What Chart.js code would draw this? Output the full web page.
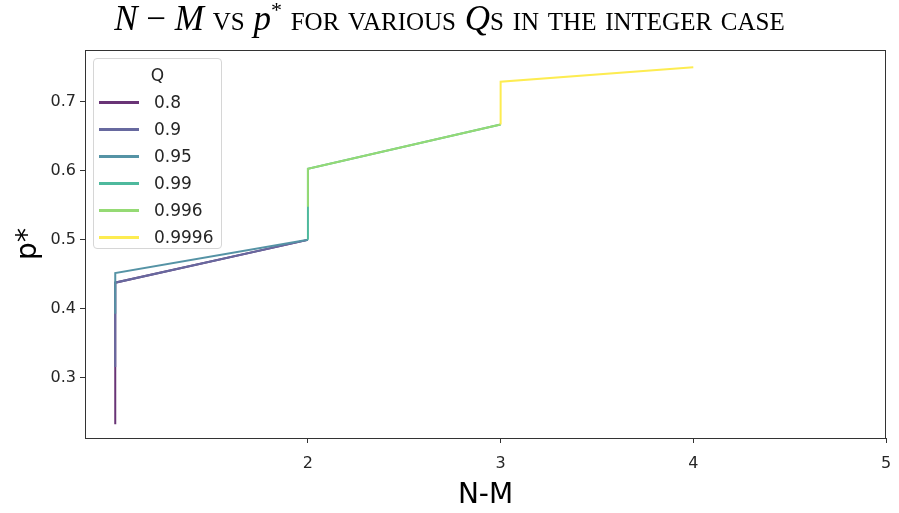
<!DOCTYPE html>
<html>
<head>
<meta charset="utf-8">
<script src="https://cdn.jsdelivr.net/npm/chart.js@4"></script>
<style>
  body { margin: 0; background: #fff; }
  #contenedor { position: relative; width: 899px; height: 513px; }
  #titulo {
    position: absolute; top: -1px; left: 0; width: 899px;
    text-align: center; font-family: "Liberation Serif", serif;
    font-size: 35px; line-height: 40px; color: #000;
  }
  #titulo .sc { font-variant: small-caps; }
  #titulo sup { font-size: 22px; line-height: 0; }
  #grafico { position: absolute; top: 0; left: 0; }
  #leyenda {
    position: absolute; left: 93px; top: 58px; width: 127px; height: 189px;
    border: 1px solid #d6d6d6; border-radius: 4px; background: rgba(255,255,255,0.8);
    font-family: "DejaVu Sans", sans-serif; font-size: 17px; color: #262626;
  }
  #leyenda .tit { position: absolute; top: 6px; width: 100%; text-align: center; }
  #leyenda .fila { position: absolute; left: 0; height: 20px; }
  #leyenda .linea { position: absolute; left: 5px; top: 9px; width: 40px; height: 3px; }
  #leyenda .txt { position: absolute; left: 60px; top: 0; white-space: nowrap; }
</style>
</head>
<body>
<div id="contenedor">
  <canvas id="grafico" width="899" height="513"></canvas>
  <div id="titulo"><i>N</i> − <i>M</i> <span class="sc">vs</span> <i>p</i><sup>*</sup> <span class="sc">for various</span> <i>Q</i><span class="sc">s in the integer case</span></div>
  <div id="leyenda"><div class="tit">Q</div></div>
</div>
<script>
// DATOS (N-M vs p*)
const qLabels = ["0.8", "0.9", "0.95", "0.99", "0.996", "0.9996"];
const colores = [
  "rgb(105,52,118)",
  "rgb(103,105,159)",
  "rgb(85,147,165)",
  "rgb(78,185,157)",
  "rgb(149,218,116)",
  "rgb(253,236,81)",
];

const nm08 = [1, 1, 2];
const p08 = [0.233, 0.438, 0.5];
const nm09 = [1, 1, 2];
const p09 = [0.316, 0.438, 0.5];
const nm095 = [1, 1, 2];
const p095 = [0.393, 0.452, 0.5];
const nm099 = [2, 2, 3];
const p099 = [0.5, 0.603, 0.667];
const nm0996 = [2, 2, 3];
const p0996 = [0.548, 0.603, 0.667];
const nm09996 = [3, 3, 4];
const p09996 = [0.667, 0.729, 0.75];

const xTicks = [2, 3, 4, 5];
const yTicks = [0.3, 0.4, 0.5, 0.6, 0.7];

const series = [
  [nm08, p08], [nm09, p09], [nm095, p095],
  [nm099, p099], [nm0996, p0996], [nm09996, p09996],
];

const datasets = series.map(([xs, ys], i) => ({
  label: qLabels[i],
  data: xs.map((x, j) => ({ x: x, y: ys[j] })),
  borderColor: colores[i],
  borderWidth: 2,
  pointRadius: 0,
  fill: false,
  tension: 0,
  order: series.length - i, // el ultimo queda arriba
}));

//LEYENDA HTML
const leyenda = document.getElementById("leyenda");
qLabels.forEach((q, i) => {
  const fila = document.createElement("div");
  fila.className = "fila";
  fila.style.top = (33 + i * 27) + "px";
  fila.innerHTML = `<div class="linea" style="background:${colores[i]}"></div><div class="txt">${q}</div>`;
  leyenda.appendChild(fila);
});

//MARCO COMPLETO DEL AREA
const marco = {
  id: "marco",
  afterDraw(chart) {
    const { ctx, chartArea: a } = chart;
    ctx.save();
    ctx.strokeStyle = "#333";
    ctx.lineWidth = 1;
    ctx.strokeRect(a.left + 0.5, a.top + 0.5, a.right - a.left - 1, a.bottom - a.top);
    ctx.restore();
  },
};

const fuente = { family: "DejaVu Sans", size: 16 };

new Chart(document.getElementById("grafico"), {
  type: "line",
  data: { datasets: datasets },
  plugins: [marco],
  options: {
    responsive: false,
    animation: false,
    layout: { padding: { left: 0, right: 13, top: 50, bottom: 0 } },
    plugins: { legend: { display: false }, tooltip: { enabled: false } },
    scales: {
      x: {
        type: "linear",
        min: 0.843,
        max: 5,
        afterBuildTicks: (s) => { s.ticks = xTicks.map((v) => ({ value: v })); },
        afterFit: (s) => { s.height = 75; s.paddingLeft = 0; s.paddingRight = 0; },
        grid: { drawOnChartArea: false, color: "#333", tickLength: 5 },
        border: { color: "#333" },
        ticks: { font: fuente, color: "#262626", padding: 11 },
        title: { display: true, text: "N-M", font: { family: "DejaVu Sans", size: 28 }, color: "#000", padding: { top: 0, bottom: 0 } },
      },
      y: {
        type: "linear",
        min: 0.213,
        max: 0.775,
        afterBuildTicks: (s) => { s.ticks = yTicks.map((v) => ({ value: v })); },
        afterFit: (s) => { s.width = 85; s.paddingTop = 0; s.paddingBottom = 0; },
        grid: { drawOnChartArea: false, color: "#333", tickLength: 5 },
        border: { color: "#333" },
        ticks: { font: fuente, color: "#262626", padding: 4, callback: (v) => v.toFixed(1) },
        title: { display: true, text: "p*", font: { family: "DejaVu Sans", size: 28 }, color: "#000", padding: { top: 12, bottom: 0 } },
      },
    },
  },
});
</script>
</body>
</html>
